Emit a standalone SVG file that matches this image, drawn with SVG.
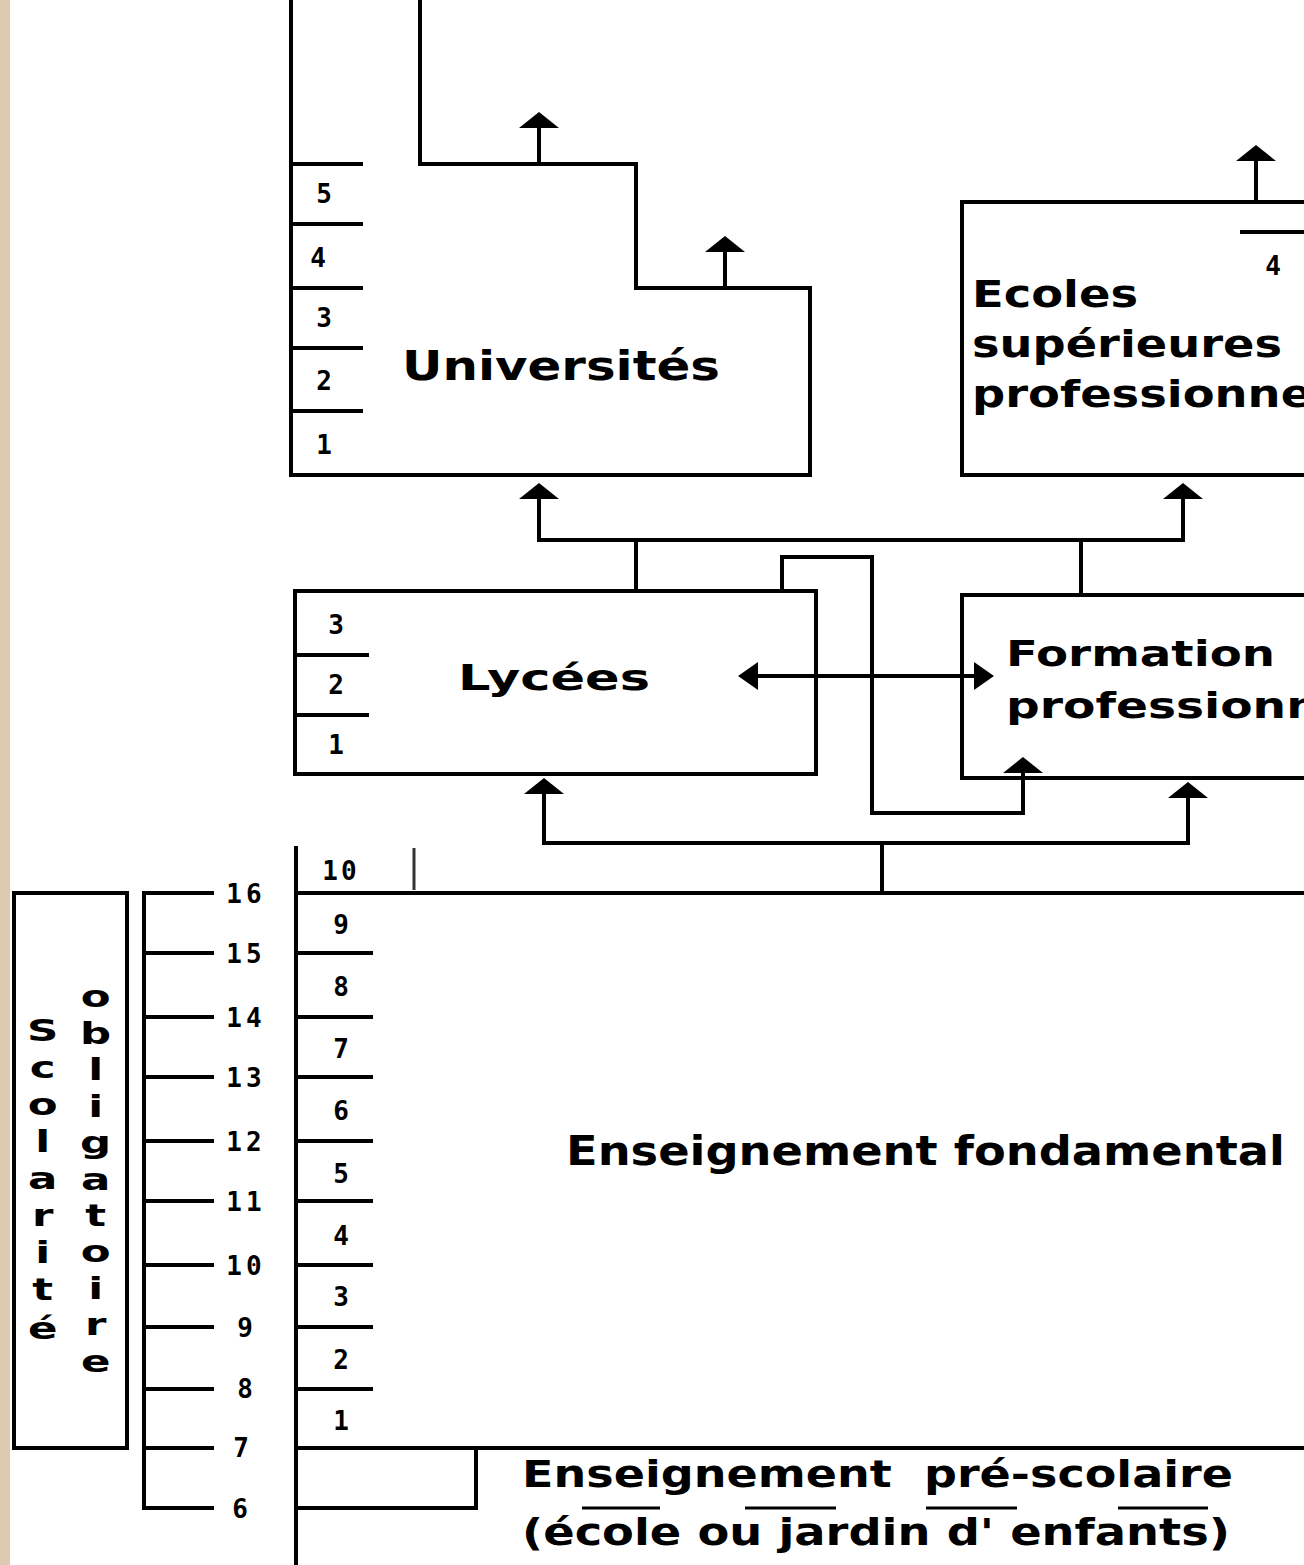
<svg xmlns="http://www.w3.org/2000/svg" width="1304" height="1565" viewBox="0 0 1304 1565">
<style>
.ln{fill:none;stroke:#000;stroke-width:4;stroke-linecap:square}
.th{fill:none;stroke:#000;stroke-width:3}
.big{font-family:"DejaVu Sans",sans-serif;font-weight:bold;fill:#000}
.num{font-family:"DejaVu Sans Mono",monospace;font-weight:bold;font-size:26px;fill:#000;text-anchor:middle}
.vt{font-family:"DejaVu Sans",sans-serif;font-weight:bold;font-size:30px;fill:#000;text-anchor:middle}
</style>
<defs>
<marker id="ah" viewBox="0 0 16 40" refX="6" refY="20" markerWidth="16" markerHeight="40" markerUnits="userSpaceOnUse" orient="auto"><path d="M0,0 L16,20 L0,40 z" fill="#000"/></marker>
<marker id="ah2" viewBox="0 0 20 28" refX="8" refY="14" markerWidth="20" markerHeight="28" markerUnits="userSpaceOnUse" orient="auto-start-reverse"><path d="M0,0 L20,14 L0,28 z" fill="#000"/></marker>
</defs>
<rect x="0" y="0" width="1304" height="1565" fill="#fff"/>
<rect x="0" y="0" width="10" height="1565" fill="#dccbb1"/>

<g id="universites">
<path class="ln" d="M291,0 V475 H810 V288 H636 V164 H420 V0"/>
<path class="ln" d="M291,164 H361 M291,224 H361 M291,288 H361 M291,348 H361 M291,411 H361"/>
<text class="num" x="324" y="203">5</text>
<text class="num" x="318" y="267">4</text>
<text class="num" x="324" y="327">3</text>
<text class="num" x="324" y="390">2</text>
<text class="num" x="324" y="454">1</text>
<text class="big" x="402" y="380" font-size="40" textLength="318" lengthAdjust="spacingAndGlyphs">Universités</text>
</g>

<g id="ecoles">
<path class="ln" d="M1310,202 H962 V475 H1310"/>
<path class="ln" d="M1242,232 H1310"/>
<text class="num" x="1273" y="275">4</text>
<text class="big" x="972" y="307" font-size="38" textLength="166" lengthAdjust="spacingAndGlyphs">Ecoles</text>
<text class="big" x="972" y="357" font-size="38" textLength="310" lengthAdjust="spacingAndGlyphs">supérieures</text>
<text class="big" x="972" y="407" font-size="38" textLength="431" lengthAdjust="spacingAndGlyphs">professionnelles</text>
</g>

<g id="lycees">
<rect class="ln" x="295" y="591" width="521" height="183"/>
<path class="ln" d="M295,655 H367 M295,715 H367"/>
<text class="num" x="336" y="634">3</text>
<text class="num" x="336" y="694">2</text>
<text class="num" x="336" y="754">1</text>
<text class="big" x="458" y="690" font-size="36" textLength="192" lengthAdjust="spacingAndGlyphs">Lycées</text>
</g>

<g id="formation">
<path class="ln" d="M1310,595 H962 V778 H1310"/>
<text class="big" x="1006" y="666" font-size="36" textLength="269" lengthAdjust="spacingAndGlyphs">Formation</text>
<text class="big" x="1006" y="718" font-size="36" textLength="410" lengthAdjust="spacingAndGlyphs">professionnelle</text>
</g>

<g id="fondamental">
<path class="ln" d="M296,848 V1565"/>
<path class="ln" d="M296,893 H1310 M296,1448 H1310"/>
<path fill="none" stroke="#333" stroke-width="3" d="M414,848 V890"/>
<path class="ln" d="M296,953 H371 M296,1017 H371 M296,1077 H371 M296,1141 H371 M296,1201 H371 M296,1265 H371 M296,1327 H371 M296,1389 H371"/>
<text class="num" x="341" y="880" letter-spacing="3">10</text>
<text class="num" x="341" y="934">9</text>
<text class="num" x="341" y="996">8</text>
<text class="num" x="341" y="1058">7</text>
<text class="num" x="341" y="1120">6</text>
<text class="num" x="341" y="1183">5</text>
<text class="num" x="341" y="1245">4</text>
<text class="num" x="341" y="1306">3</text>
<text class="num" x="341" y="1369">2</text>
<text class="num" x="341" y="1430">1</text>
<text class="big" x="566" y="1165" font-size="40" textLength="719" lengthAdjust="spacingAndGlyphs">Enseignement fondamental</text>
</g>

<g id="prescolaire">
<path class="ln" d="M296,1508 H476 V1448"/>
<text class="big" x="522" y="1487" font-size="38" textLength="711" lengthAdjust="spacingAndGlyphs" xml:space="preserve">Enseignement  pré-scolaire</text>
<path class="th" d="M582,1508 H660 M745,1508 H836 M926,1508 H1017 M1118,1508 H1208"/>
<text class="big" x="522" y="1545" font-size="38" textLength="708" lengthAdjust="spacingAndGlyphs">(école ou jardin d' enfants)</text>
</g>

<g id="ages">
<path class="ln" d="M144,893 V1508"/>
<path class="ln" d="M144,893 H212 M144,953 H212 M144,1017 H212 M144,1077 H212 M144,1141 H212 M144,1201 H212 M144,1265 H212 M144,1327 H212 M144,1389 H212 M144,1448 H212 M144,1508 H212"/>
<text class="num" x="246" y="903" letter-spacing="4">16</text>
<text class="num" x="246" y="963" letter-spacing="4">15</text>
<text class="num" x="246" y="1027" letter-spacing="4">14</text>
<text class="num" x="246" y="1087" letter-spacing="4">13</text>
<text class="num" x="246" y="1151" letter-spacing="4">12</text>
<text class="num" x="246" y="1211" letter-spacing="4">11</text>
<text class="num" x="246" y="1275" letter-spacing="4">10</text>
<text class="num" x="245" y="1337">9</text>
<text class="num" x="245" y="1398">8</text>
<text class="num" x="241" y="1457">7</text>
<text class="num" x="240" y="1518">6</text>
</g>

<g id="scolarite">
<rect class="ln" x="14" y="893" width="113" height="555"/>
<g transform="scale(1.45,1)">
<text class="vt"><tspan x="29.5" y="1041">S</tspan><tspan x="29.5" y="1078">c</tspan><tspan x="29.5" y="1115">o</tspan><tspan x="29.5" y="1152">l</tspan><tspan x="29.5" y="1189">a</tspan><tspan x="29.5" y="1226">r</tspan><tspan x="29.5" y="1263">i</tspan><tspan x="29.5" y="1300">t</tspan><tspan x="29.5" y="1339">é</tspan></text>
<text class="vt"><tspan x="66" y="1007">o</tspan><tspan x="66" y="1044">b</tspan><tspan x="66" y="1080">l</tspan><tspan x="66" y="1117">i</tspan><tspan x="66" y="1153">g</tspan><tspan x="66" y="1190">a</tspan><tspan x="66" y="1226">t</tspan><tspan x="66" y="1262">o</tspan><tspan x="66" y="1299">i</tspan><tspan x="66" y="1335">r</tspan><tspan x="66" y="1372">e</tspan></text>
</g>
</g>

<g id="connectors">
<path class="ln" d="M539,164 V122" marker-end="url(#ah)"/>
<path class="ln" d="M725,288 V246" marker-end="url(#ah)"/>
<path class="ln" d="M1256,202 V155" marker-end="url(#ah)"/>
<path class="ln" d="M636,591 V540 M1081,595 V540 M539,540 H1183"/>
<path class="ln" d="M539,540 V493" marker-end="url(#ah)"/>
<path class="ln" d="M1183,540 V493" marker-end="url(#ah)"/>
<path class="ln" d="M782,591 V557 H872 V813 H1023 V767" marker-end="url(#ah)"/>
<path class="ln" d="M750,676 H982" marker-start="url(#ah2)" marker-end="url(#ah2)"/>
<path class="ln" d="M882,893 V843 M544,843 H1188"/>
<path class="ln" d="M544,843 V788" marker-end="url(#ah)"/>
<path class="ln" d="M1188,843 V792" marker-end="url(#ah)"/>
</g>
</svg>
